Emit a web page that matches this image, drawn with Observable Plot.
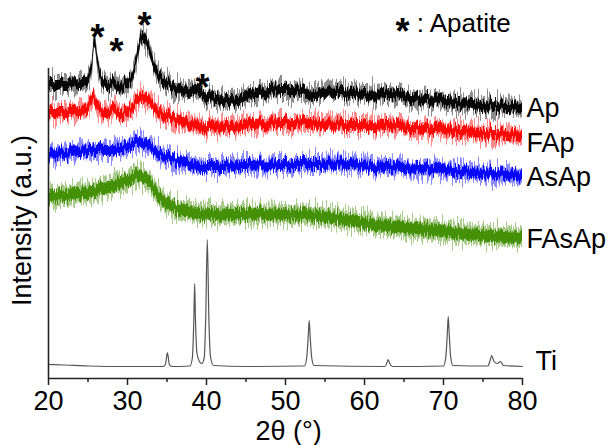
<!DOCTYPE html>
<html><head><meta charset="utf-8">
<script src="https://cdn.jsdelivr.net/npm/d3@7"></script>
<script src="https://cdn.jsdelivr.net/npm/@observablehq/plot@0.6"></script>
<style>body{margin:0;background:#fff} svg{display:block}</style>
</head><body><div id="chart"></div>
<script>
// 2θ (degrees), intensity (a.u., offset per pattern)
const ap = [[20,293],[22,293],[24,294],[25,298],[25.5,312],[25.9,338],[26.3,314],[26.9,296],[27.6,292],[28.2,298],[28.8,292],[29.6,292],[30.4,298],[31.0,312],[31.5,332],[32.0,343],[32.5,336],[33.1,320],[33.8,306],[34.8,296],[36,290],[37.5,286],[39.2,287],[40.2,282],[42,278],[44,279],[46,284],[48,288],[50,289],[52,288],[53.4,282],[54.5,286],[57,286],[60,284],[63,283],[66,280],[69,277],[72,275],[75,273],[78,271],[80,269]];
const fap = [[20,265],[22,265],[24,266],[25,270],[25.7,282],[26.3,272],[27,264],[27.7,266],[28.3,272],[29,264],[30,266],[30.8,272],[31.4,279],[31.9,282],[32.5,279],[33.3,272],[34.5,264],[35.8,260],[37.5,254],[40,252],[43,252],[46,254],[49.5,256],[53,255],[57.5,253],[60,253],[63,252],[66,250],[69,248],[72,247],[75,245],[78,243],[80,241]];
const asap = [[20,223],[22,224],[24,226],[26,229],[28,228],[30,231],[31.5,236],[32.5,233],[34,225],[36,218],[38,213],[41,212],[45,213],[49.5,214],[54,214],[58,214],[61,212],[65,210],[69,208],[72,207],[75,205],[78,203],[80,201]];
const fasap = [[20,181],[22,182],[24,184],[26,188],[28,192],[30,197],[31.5,202],[32.5,198],[33.5,188],[34.5,178],[36,170],[38,166],[41,164],[45,164],[50,164],[54,162],[57,159],[60,155],[64,151],[68,148],[72,145],[76,142],[80,140]];
const ti = [[20,14],[22,13.5],[25,12.5],[30,12],[34.5,12],[34.8,14],[35.05,26],[35.3,14],[35.6,12],[37.9,12.5],[38.2,20],[38.4,60],[38.5,95],[38.6,60],[38.8,25],[39.1,17],[39.4,15],[39.7,20],[39.9,60],[40.1,139],[40.3,60],[40.5,22],[40.9,13],[45,12],[52.4,12.5],[52.7,22],[52.9,45],[53.0,58],[53.1,45],[53.3,22],[53.6,13],[62.6,12],[62.85,16],[63.0,19],[63.2,15],[63.5,12],[70.0,12.5],[70.3,22],[70.5,48],[70.6,62],[70.7,48],[70.9,22],[71.2,13],[75.6,12.5],[75.9,18],[76.1,23],[76.4,17],[76.8,15],[77.2,17],[77.6,13],[80,12]];
// apatite reflections marked with *
const starTheta = [26.2, 28.6, 32.15, 39.5];
const starIntensity = [349, 335, 361, 299];
const seriesNames = ["Ap", "FAp", "AsAp", "FAsAp", "Ti"];
const majorTicks = [20, 30, 40, 50, 60, 70, 80];
const minorTicks = [25, 35, 45, 55, 65, 75];

const rows = (pairs) => pairs.map(([t, v]) => ({t, v}));
const noisy = [
  {name: "FAsAp", data: rows(fasap), color: "#3e8c05", inner: 6, outer: 10, dy: 1},
  {name: "AsAp", data: rows(asap), color: "#0000ff", inner: 5, outer: 8, dy: 0},
  {name: "FAp", data: rows(fap), color: "#ff0000", inner: 5, outer: 8, dy: 6},
  {name: "Ap", data: rows(ap), color: "#000000", inner: 5, outer: 8, dy: -1}
];
const tiRows = rows(ti);
const font = "'Liberation Sans', Arial, Helvetica, sans-serif";

const marks = [];
marks.push(Plot.line(tiRows, {x: "t", y: "v", stroke: "#555", strokeWidth: 1.2, curve: "monotone-x"}));
for (const s of noisy) {
  marks.push(Plot.areaY(s.data, {x: "t", y1: d => d.v - s.outer, y2: d => d.v + s.outer, fill: s.color, fillOpacity: 0.45, curve: "catmull-rom"}));
  marks.push(Plot.areaY(s.data, {x: "t", y1: d => d.v - s.inner, y2: d => d.v + s.inner, fill: s.color, fillOpacity: 0.95, curve: "catmull-rom"}));
}
// series labels at the right end
for (const s of noisy) {
  const last = s.data[s.data.length - 1];
  marks.push(Plot.text([last], {x: "t", y: "v", text: () => s.name, textAnchor: "start", lineAnchor: "middle", dx: 4, dy: s.dy, fontSize: 27, fill: "#000"}));
}
const tiLast = tiRows[tiRows.length - 1];
marks.push(Plot.text([tiLast], {x: "t", y: "v", text: () => seriesNames[4], textAnchor: "start", lineAnchor: "middle", dx: 13, dy: -5, fontSize: 27, fill: "#000"}));
// asterisks
marks.push(Plot.text(starTheta.map((t, i) => ({t, v: starIntensity[i]})), {x: "t", y: "v", text: () => "*", fontSize: 36, fontWeight: "bold", lineAnchor: "middle", dy: 9, fill: "#000"}));
// legend
marks.push(Plot.text([{t: 64.8, v: 355}], {x: "t", y: "v", text: () => "*", fontSize: 36, fontWeight: "bold", lineAnchor: "middle", dy: 9, fill: "#000"}));
marks.push(Plot.text([{t: 66.6, v: 355}], {x: "t", y: "v", text: () => ": Apatite", textAnchor: "start", lineAnchor: "middle", fontSize: 26, fill: "#000"}));
// axes
marks.push(Plot.ruleY([0], {stroke: "#222", strokeWidth: 1.6}));
marks.push(Plot.ruleX([20], {y1: 0, y2: 310, stroke: "#222", strokeWidth: 1.6}));
marks.push(Plot.axisX({ticks: majorTicks, tickSize: 7, tickPadding: 5, fontSize: 27, stroke: "#222", strokeWidth: 1.5, label: null, fill: "#000"}));
marks.push(Plot.axisX({ticks: minorTicks, tickSize: 4, tickFormat: () => "", stroke: "#222", strokeWidth: 1.5, label: null}));
marks.push(Plot.text([{t: 20, v: 158}], {x: "t", y: "v", text: () => "Intensity (a.u.)", rotate: -90, dx: -26, lineAnchor: "middle", fontSize: 27, fill: "#000"}));
marks.push(Plot.text([{t: 50.4, v: -53}], {x: "t", y: "v", text: () => "2θ (°)", lineAnchor: "middle", fontSize: 27, fill: "#000"}));

const svg = Plot.plot({
  width: 611, height: 445,
  marginLeft: 48, marginRight: 89, marginTop: 0, marginBottom: 67,
  x: {domain: [20, 80], axis: null},
  y: {domain: [0, 378], axis: null},
  style: {fontFamily: font, background: "#fff", overflow: "visible"},
  marks
});
// presentational texture: vertical jitter so the bands read like raw, noisy scans
const defs = d3.select(svg).insert("defs", ":first-child");
function jitterFilter(id, seed, scale, freq) {
  const f = defs.append("filter").attr("id", id).attr("filterUnits", "userSpaceOnUse")
    .attr("x", 0).attr("y", 0).attr("width", 611).attr("height", 445);
  f.append("feTurbulence").attr("type", "fractalNoise").attr("baseFrequency", `${freq} 0.004`).attr("numOctaves", 2).attr("seed", seed).attr("result", "t");
  f.append("feColorMatrix").attr("in", "t").attr("type", "matrix")
    .attr("values", "0 0 0 0 0.5  0 1 0 0 0  0 0 0 0 0  0 0 0 0 1").attr("result", "m");
  f.append("feDisplacementMap").attr("in", "SourceGraphic").attr("in2", "m").attr("scale", scale)
    .attr("xChannelSelector", "R").attr("yChannelSelector", "G");
}
jitterFilter("jit-outer", 7, 30, 0.8);
jitterFilter("jit-inner", 3, 16, 0.7);
d3.select(svg).selectAll('g[aria-label="area"]').each(function(_, i) {
  this.setAttribute("filter", i % 2 === 0 ? "url(#jit-outer)" : "url(#jit-inner)");
});
document.getElementById("chart").appendChild(svg);
</script>
</body></html>
